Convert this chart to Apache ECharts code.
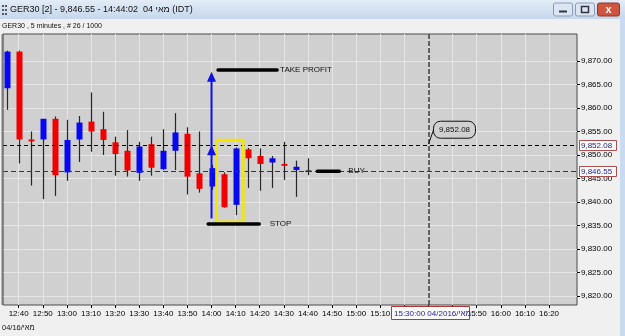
<!DOCTYPE html>
<html><head><meta charset="utf-8">
<script src="https://cdn.jsdelivr.net/npm/echarts@6/dist/echarts.min.js"></script>
<style>html,body{margin:0;padding:0;background:#f0f0f0;overflow:hidden}#c{width:625px;height:336px}</style>
</head><body><div id="c"></div>
<script>
// ---- data ----
const times  = ['12:35','12:40','12:45','12:50','12:55','13:00','13:05','13:10','13:15','13:20','13:25','13:30','13:35','13:40','13:45','13:50','13:55','14:00','14:05','14:10','14:15','14:20','14:25','14:30','14:35','14:40'];
const opens  = [9864.2,9872.0,9853.3,9853.3,9857.7,9846.3,9853.3,9857.1,9855.5,9852.7,9850.9,9846.2,9852.3,9847.0,9850.9,9854.5,9846.1,9843.3,9845.9,9839.4,9851.2,9849.8,9848.4,9848.1,9846.8,9846.55];
const closes = [9872.0,9853.3,9852.9,9857.7,9845.7,9853.2,9856.9,9855.0,9853.2,9850.2,9846.7,9851.8,9847.3,9850.9,9854.8,9845.4,9842.8,9847.2,9838.9,9851.4,9849.3,9848.1,9849.3,9847.7,9847.5,9846.55];
const lows   = [9859.6,9848.2,9843.5,9840.6,9841.3,9844.5,9848.5,9850.7,9850.0,9845.6,9845.4,9844.5,9845.6,9846.8,9846.8,9841.6,9842.0,9842.6,9838.8,9837.2,9843.0,9842.4,9843.0,9844.7,9841.1,9845.7];
const highs  = [9872.2,9872.2,9855.0,9857.7,9858.2,9857.5,9858.3,9863.3,9859.2,9853.9,9855.3,9852.8,9853.9,9855.5,9858.9,9855.9,9855.0,9847.9,9846.3,9851.6,9851.5,9851.4,9849.8,9852.8,9848.8,9849.3];
const xTickLabels = ['12:40','12:50','13:00','13:10','13:20','13:30','13:40','13:50','14:00','14:10','14:20','14:30','14:40','14:50','15:00','15:10','15:20','15:30','15:40','15:50','16:00','16:10','16:20'];
const yTickValues = [9820,9825,9830,9835,9840,9845,9850,9855,9860,9865,9870];
const entryPrice = 9852.08;
const bidPrice = 9846.55;
const crossTime = '15:30';
const takeProfitLine = [['14:02:42',9868.1],['14:27:12',9868.1]];
const stopLine = [['13:58:36',9835.3],['14:19:48',9835.3]];
const buyLine = [['14:43:54',9846.55],['14:53:00',9846.55]];
const arrowPts = [['14:00',9836.5],['14:00',9867.7]];
const highlightBox = [['14:02:06',9853.2],['14:13:12',9835.8]];
const titleText = 'GER30 [2] - 9,846.55 - 14:44:02  04 מאי (IDT)';
const subTitle = 'GER30 , 5 minutes , # 26 / 1000';
const dateText = '04/16/מאי';
const crossLabel = '15:30:00 04/2016/מאי';

function toMin(s){const p=s.split(':').map(Number);return p[0]*60+p[1]+(p[2]||0)/60;}
function fmtT(v){const h=Math.floor(v/60),m=Math.round(v-h*60);return h+':'+(m<10?'0':'')+m;}
function fmtP(v){return v.toLocaleString('en-US',{minimumFractionDigits:2,maximumFractionDigits:2});}

const FONT='Liberation Sans, Arial, sans-serif';
const X_MIN=753.5, X_MAX=991.6, Y_MIN=9818.09, Y_MAX=9875.74;
const candleData = times.map((t,i)=>[toMin(t),opens[i],closes[i],lows[i],highs[i]]);

const chart = echarts.init(document.getElementById('c'));
chart.setOption({
  animation:false,
  backgroundColor:'#f0f0f0',
  grid:{left:3,right:48,top:34,bottom:31,show:true,backgroundColor:'#d0d0d0',borderColor:'#4a4a4a',borderWidth:1},
  xAxis:{type:'value',min:X_MIN,max:X_MAX,
    axisLine:{show:false},
    axisTick:{show:true,length:3,customValues:xTickLabels.map(toMin),lineStyle:{color:'#000'}},
    axisLabel:{customValues:xTickLabels.map(toMin),formatter:fmtT,fontSize:8,color:'#000',margin:5,fontFamily:FONT},
    splitLine:{show:true,lineStyle:{color:'#e6e6e6',width:1}}},
  yAxis:{type:'value',position:'right',min:Y_MIN,max:Y_MAX,
    axisLine:{show:false},
    axisTick:{show:true,length:3,customValues:yTickValues,lineStyle:{color:'#000'}},
    axisLabel:{customValues:yTickValues,formatter:fmtP,fontSize:8,color:'#000',margin:4,fontFamily:FONT},
    splitLine:{show:true,lineStyle:{color:'#e6e6e6',width:1}}},
  series:[{
    type:'custom',data:candleData,encode:{x:0,y:[1,2,3,4]},z:3,
    renderItem:function(params,api){
      const t=api.value(0),o=api.value(1),c=api.value(2),l=api.value(3),h=api.value(4);
      const pO=api.coord([t,o]),pC=api.coord([t,c]),pL=api.coord([t,l]),pH=api.coord([t,h]);
      const x=Math.round(pO[0])+0.5;
      const top=Math.min(pO[1],pC[1]),bot=Math.max(pO[1],pC[1]);
      const col=c>o?'#0808f0':(c<o?'#f00000':'#111');
      return {type:'group',children:[
        {type:'line',shape:{x1:x,y1:pH[1],x2:x,y2:pL[1]},style:{stroke:'#262626',lineWidth:1.2}},
        {type:'rect',shape:{x:x-3,y:c===o?top-0.75:top,width:6,height:Math.max(bot-top,1.5)},style:{fill:col}}
      ]};
    },
    markLine:{silent:true,symbol:'none',label:{show:false},animation:false,data:[
      {yAxis:entryPrice,lineStyle:{color:'#000',type:[4,3],width:1}},
      {yAxis:bidPrice,lineStyle:{color:'#2a2aa0',type:[5,3],width:1}},
      {xAxis:toMin(crossTime),lineStyle:{color:'#3a3a3a',type:[5,2],width:1.5}}
    ]}
  }]
});

function px(p){return chart.convertToPixel({gridIndex:0},[typeof p[0]==='string'?toMin(p[0]):p[0],p[1]]);}
const g=[];
// window chrome
g.push({type:'rect',shape:{x:0,y:0,width:625,height:19},style:{fill:new echarts.graphic.LinearGradient(0,0,0,1,[{offset:0,color:'#e3ecf7'},{offset:1,color:'#c6d7ec'}])},z:10});
[[2,5],[5,5],[2,9],[5,9],[2,13],[5,13]].forEach(d=>g.push({type:'rect',shape:{x:d[0],y:d[1],width:2,height:2},style:{fill:'#556'},z:11}));
g.push({type:'text',style:{x:10,y:10,text:titleText,font:'9px '+FONT,fill:'#111',verticalAlign:'middle'},z:11});
function btn(x,w,fill,stroke){g.push({type:'rect',shape:{x:x,y:3,width:w,height:13,r:2},style:{fill:fill,stroke:stroke,lineWidth:1},z:11});}
btn(553.5,19,'#dce6f2','#8a9bb5');btn(575.5,19,'#dce6f2','#8a9bb5');btn(597.5,22,'#d0553f','#8a3a2a');
g.push({type:'line',shape:{x1:559,y1:11.5,x2:567,y2:11.5},style:{stroke:'#334',lineWidth:2},z:12});
g.push({type:'rect',shape:{x:581.5,y:6.5,width:7,height:6},style:{fill:'none',stroke:'#334',lineWidth:1.5},z:12});
g.push({type:'text',style:{x:608.5,y:10,text:'x',font:'bold 11px '+FONT,fill:'#fff',align:'center',verticalAlign:'middle'},z:12});
g.push({type:'rect',shape:{x:620,y:19,width:5,height:317},style:{fill:'#c9dbf0'},z:10});
g.push({type:'text',style:{x:2,y:26,text:subTitle,font:'7px '+FONT,fill:'#111',verticalAlign:'middle'},z:11});
g.push({type:'text',style:{x:2,y:328,text:dateText,font:'7.5px '+FONT,fill:'#111',verticalAlign:'middle'},z:11});
g.push({type:'line',shape:{x1:2.5,y1:34,x2:2.5,y2:305},style:{stroke:'#7a7a7a',lineWidth:2},z:11});

// annotations
function thick(a,b){const p1=px(a),p2=px(b);g.push({type:'line',shape:{x1:p1[0],y1:p1[1],x2:p2[0],y2:p2[1]},style:{stroke:'#000',lineWidth:3.5,lineCap:'round'},z:20});return p2;}
function label(p,dx,t){g.push({type:'text',style:{x:p[0]+dx,y:p[1],text:t,font:'8px '+FONT,fill:'#111',verticalAlign:'middle'},z:20});}
label(thick(takeProfitLine[0],takeProfitLine[1]),3,'TAKE PROFIT');
label(thick(stopLine[0],stopLine[1]),10.5,'STOP');
label(thick(buyLine[0],buyLine[1]),9,'BUY');
const a0=px(arrowPts[0]),a1=px(arrowPts[1]),am=px([arrowPts[0][0],entryPrice]);
g.push({type:'line',shape:{x1:a0[0],y1:a0[1],x2:a1[0],y2:a1[1]+4},style:{stroke:'#1212e0',lineWidth:2},z:20});
[a1,am].forEach(p=>g.push({type:'polygon',shape:{points:[[p[0],p[1]],[p[0]-4.5,p[1]+10],[p[0]+4.5,p[1]+10]]},style:{fill:'#1212e0'},z:20}));
const h0=px(highlightBox[0]),h1=px(highlightBox[1]);
g.push({type:'rect',shape:{x:h0[0],y:h0[1],width:h1[0]-h0[0],height:h1[1]-h0[1]},style:{fill:'none',stroke:'#f2e600',lineWidth:2.5},z:19});
// callout
const cp=px([crossTime,entryPrice]);
g.push({type:'line',shape:{x1:cp[0],y1:cp[1]-1,x2:cp[0]+6,y2:cp[1]-18},style:{stroke:'#111',lineWidth:1},z:20});
g.push({type:'rect',shape:{x:cp[0]+5,y:cp[1]-24,width:42,height:17,r:7},style:{fill:'#d0d0d0',stroke:'#111',lineWidth:1},z:20});
g.push({type:'text',style:{x:cp[0]+26,y:cp[1]-15.5,text:fmtP(entryPrice),font:'8px '+FONT,fill:'#111',align:'center',verticalAlign:'middle'},z:21});
// price boxes on axis
[[entryPrice,'#1a1a70'],[bidPrice,'#2020a8']].forEach(e=>{const p=px([X_MAX,e[0]]);
  g.push({type:'rect',shape:{x:579.5,y:Math.round(p[1])-4.5,width:37,height:10},style:{fill:'#fbfbfb',stroke:'#a85050',lineWidth:1},z:20});
  g.push({type:'text',style:{x:581,y:p[1]+0.5,text:fmtP(e[0]),font:'8px '+FONT,fill:e[1],verticalAlign:'middle'},z:21});});
// crosshair time box
const tp=px([crossTime,Y_MIN]);
g.push({type:'rect',shape:{x:Math.round(tp[0])-36.5,y:306.5,width:78,height:13},style:{fill:'#fbfbfb',stroke:'#b03838',lineWidth:1},z:20});
g.push({type:'text',style:{x:Math.round(tp[0])-34,y:313.5,text:crossLabel,font:'8px '+FONT,fill:'#2020a0',verticalAlign:'middle'},z:21});
chart.setOption({graphic:{elements:g}});
</script></body></html>
